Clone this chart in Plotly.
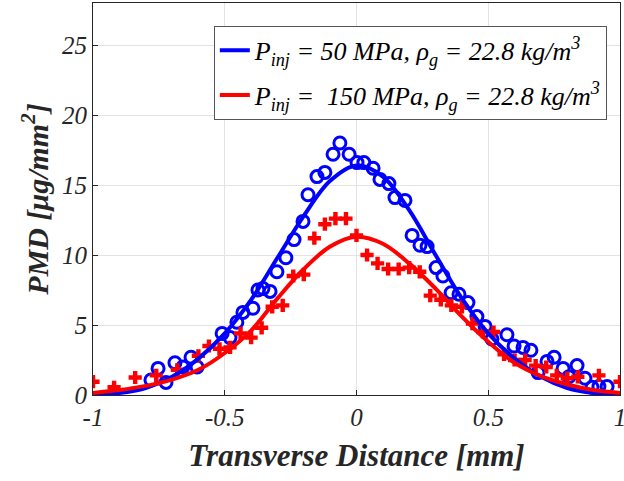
import plotly.graph_objects as go

# measured points, 50 MPa (circles)
x_50 = [-0.78, -0.753, -0.723, -0.689, -0.659, -0.628, -0.605, -0.51, -0.48, -0.454,
        -0.431, -0.393, -0.374, -0.355, -0.328, -0.302, -0.268, -0.237, -0.203, -0.184,
        -0.15, -0.12, -0.089, -0.063, -0.028, 0.002, 0.028, 0.063, 0.089, 0.123,
        0.146, 0.184, 0.211, 0.241, 0.268, 0.302, 0.328, 0.359, 0.389, 0.423,
        0.457, 0.488, 0.514, 0.571, 0.598, 0.632, 0.662, 0.689, 0.723, 0.75,
        0.784, 0.806, 0.837, 0.867, 0.894, 0.92, 0.951]
y_50 = [1.07, 1.9, 0.9, 2.3, 2.0, 2.7, 2.0, 4.4, 4.1, 5.2,
        5.9, 6.2, 7.5, 7.6, 7.4, 8.8, 9.8, 11.1, 12.4, 14.3,
        15.6, 15.9, 17.2, 18.0, 17.2, 16.6, 16.6, 16.2, 15.4, 15.1,
        14.1, 13.9, 11.4, 10.7, 10.6, 9.1, 8.5, 7.3, 7.2, 6.6,
        5.6, 4.9, 4.0, 4.3, 3.5, 3.4, 3.2, 1.6, 2.4, 2.7,
        1.9, 1.3, 2.1, 1.2, 0.55, 0.6, 0.6]

# measured points, 150 MPa (crosses)
x_150 = [-1.0, -0.92, -0.84, -0.76, -0.68, -0.6, -0.56, -0.52, -0.48, -0.44,
         -0.4, -0.36, -0.32, -0.28, -0.24, -0.2, -0.16, -0.12, -0.08, -0.04,
         0.0, 0.04, 0.08, 0.12, 0.16, 0.2, 0.24, 0.28, 0.32, 0.36,
         0.4, 0.44, 0.48, 0.52, 0.56, 0.6, 0.64, 0.68, 0.72, 0.76,
         0.8, 0.84, 0.92, 1.0]
y_150 = [0.95, 0.55, 1.25, 1.4, 1.8, 2.8, 3.5, 3.3, 3.4, 4.4,
         4.1, 4.8, 6.3, 6.4, 8.5, 8.6, 11.2, 12.2, 12.6, 12.6,
         11.4, 10.0, 9.4, 9.0, 9.0, 9.1, 8.8, 7.1, 6.8, 6.4,
         6.3, 5.1, 4.5, 4.5, 2.9, 2.5, 2.5, 2.1, 2.0, 1.4,
         1.2, 1.3, 1.4, 0.95]

# fitted curves
x_fit = [-1.0, -0.9, -0.8, -0.7, -0.6, -0.5, -0.4, -0.3, -0.2, -0.1, 0.0,
         0.1, 0.2, 0.3, 0.4, 0.5, 0.6, 0.7, 0.8, 0.9, 1.0]
fit_50 = [0.05, 0.15, 0.5, 1.3, 2.6, 4.4, 6.8, 9.8, 12.8, 15.3, 16.4,
          15.6, 13.2, 10.0, 6.9, 4.4, 2.6, 1.3, 0.5, 0.15, 0.05]
fit_150 = [0.15, 0.35, 0.65, 1.1, 1.8, 3.0, 4.6, 6.9, 9.0, 10.6, 11.3,
           10.8, 9.4, 7.6, 5.6, 3.8, 2.3, 1.35, 0.75, 0.35, 0.15]

x_ticks = [-1, -0.5, 0, 0.5, 1]
x_labels = ["-1", "-0.5", "0", "0.5", "1"]
y_ticks = [0, 5, 10, 15, 20, 25]

name_50 = "P<sub>inj</sub> = 50 MPa, ρ<sub>g</sub> = 22.8 kg/m<sup>3</sup>"
name_150 = "P<sub>inj</sub> =\u00a0 150 MPa, ρ<sub>g</sub> = 22.8 kg/m<sup>3</sup>"

BLUE = "#0000ff"
RED = "#ff0000"
FONT = "Liberation Serif"
INK = "#262626"

fig = go.Figure()
fig.add_trace(go.Scatter(x=x_50, y=y_50, mode="markers", showlegend=False,
                         marker=dict(symbol="circle-open", size=12, color=BLUE,
                                     line=dict(width=3, color=BLUE))))
fig.add_trace(go.Scatter(x=x_150, y=y_150, mode="markers", showlegend=False,
                         marker=dict(symbol="cross", size=11, color=RED,
                                     line=dict(width=0))))
# separate legend groups so tracegroupgap spaces the two rows like the original
fig.add_trace(go.Scatter(x=x_fit, y=fit_50, mode="lines", name=name_50, legendgroup="a",
                         line=dict(color=BLUE, width=4, shape="spline")))
fig.add_trace(go.Scatter(x=x_fit, y=fit_150, mode="lines", name=name_150, legendgroup="b",
                         line=dict(color=RED, width=4, shape="spline")))

axis_common = dict(showline=True, linecolor=INK, linewidth=1, mirror=True,
                   showgrid=True, gridcolor="#e3e3e3", gridwidth=1,
                   ticks="inside", ticklen=5, tickcolor=INK, zeroline=False,
                   automargin=False,
                   tickfont=dict(family=FONT, size=25, color=INK, style="italic"))

fig.update_xaxes(range=[-1, 1], tickvals=x_ticks, ticktext=x_labels,
                 ticklabeloverflow="allow",
                 title=dict(text="Transverse Distance [mm]", standoff=14,
                            font=dict(family=FONT, size=31, color=INK,
                                      weight="bold", style="italic")),
                 **axis_common)
fig.update_yaxes(range=[0, 28], tickvals=y_ticks,
                 title=dict(text="PMD [μg/mm<sup>2</sup>]", standoff=4,
                            font=dict(family=FONT, size=30, color=INK,
                                      weight="bold", style="italic")),
                 **axis_common)

fig.update_layout(
    width=624, height=481,
    margin=dict(l=93, r=4, t=3, b=86),
    plot_bgcolor="white", paper_bgcolor="white",
    legend=dict(x=0.975, xanchor="right", y=0.942, yanchor="top",
                bgcolor="white", bordercolor="#555555", borderwidth=1,
                font=dict(family=FONT, size=26, color="black", style="italic"),
                tracegroupgap=8),
)

# drop the browser's default 8px body margin so the figure fills the window
fig.write_html("out.html", config={"displayModeBar": False},
               post_script="document.body.style.margin = '0';")
